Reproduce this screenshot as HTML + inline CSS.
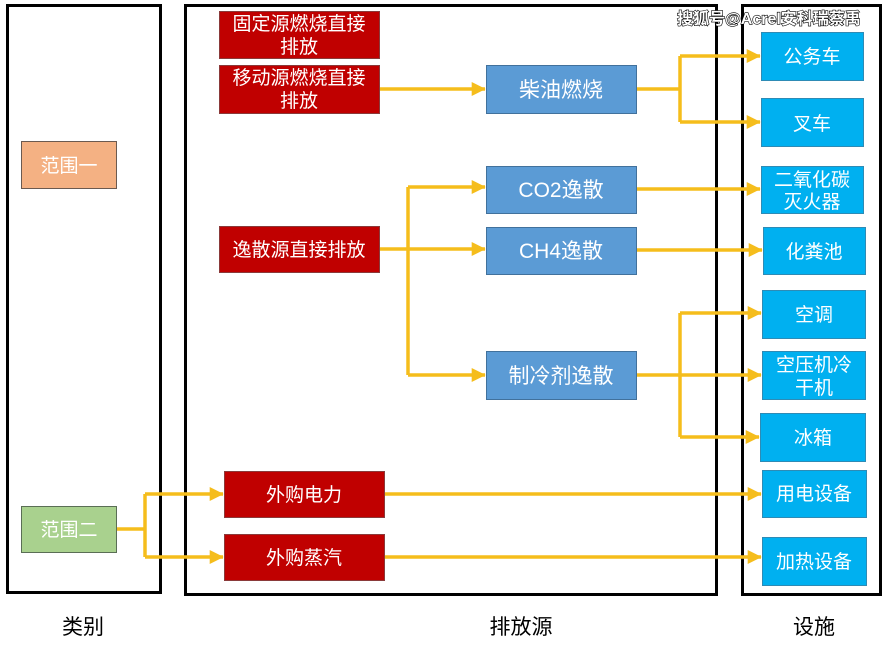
<!DOCTYPE html>
<html><head><meta charset="utf-8"><style>
html,body{margin:0;padding:0;background:#fff;}
svg{display:block}
text{font-family:"Liberation Sans","Noto Sans CJK SC",sans-serif;}
</style></head><body>
<svg width="886" height="646" viewBox="0 0 886 646" xmlns="http://www.w3.org/2000/svg">
<defs>
<marker id="a" markerWidth="4" markerHeight="4" refX="3.8" refY="2" orient="auto" markerUnits="strokeWidth">
<path d="M0,0 L4,2 L0,4 z" fill="#f5bd1c"/>
</marker>
</defs>
<rect x="7.5" y="5.5" width="153" height="587" fill="none" stroke="#000" stroke-width="3"/>
<rect x="185.5" y="5.5" width="531" height="589" fill="none" stroke="#000" stroke-width="3"/>
<rect x="742.5" y="5.5" width="138" height="589" fill="none" stroke="#000" stroke-width="3"/>

<g stroke="#f5bd1c" stroke-width="3.5" fill="none">
<path d="M379 89 H485" marker-end="url(#a)"/>
<path d="M636 89 H680"/>
<path d="M680 56 V122"/>
<path d="M680 56 H760" marker-end="url(#a)"/>
<path d="M680 122 H760" marker-end="url(#a)"/>
<path d="M379 249 H408"/>
<path d="M408 187 V375"/>
<path d="M408 187 H485" marker-end="url(#a)"/>
<path d="M408 249 H485" marker-end="url(#a)"/>
<path d="M408 375 H485" marker-end="url(#a)"/>
<path d="M636 189 H760" marker-end="url(#a)"/>
<path d="M636 250 H762" marker-end="url(#a)"/>
<path d="M636 375 H680"/>
<path d="M680 313 V437"/>
<path d="M680 313 H761" marker-end="url(#a)"/>
<path d="M680 375 H761" marker-end="url(#a)"/>
<path d="M680 437 H759" marker-end="url(#a)"/>
<path d="M116 529 H145"/>
<path d="M145 494 V557"/>
<path d="M145 494 H223" marker-end="url(#a)"/>
<path d="M145 557 H223" marker-end="url(#a)"/>
<path d="M384 494 H761" marker-end="url(#a)"/>
<path d="M384 557 H761" marker-end="url(#a)"/>
</g>

<rect x="21.5" y="141.5" width="95" height="47" fill="#f4b183" stroke="#6b5a50"/>
<text x="69" y="172" font-size="19" fill="#fff" text-anchor="middle">范围一</text>
<rect x="21.5" y="506.5" width="95" height="46" fill="#a9d18e" stroke="#5a6e55"/>
<text x="69" y="536" font-size="19" fill="#fff" text-anchor="middle">范围二</text>

<g fill="#c00000" stroke="#8a3a3a">
<rect x="219.5" y="11.5" width="160" height="47"/>
<rect x="219.5" y="65.5" width="160" height="48"/>
<rect x="219.5" y="226.5" width="160" height="46"/>
<rect x="224.5" y="471.5" width="160" height="46"/>
<rect x="224.5" y="534.5" width="160" height="46"/>
</g>
<g fill="#fff" font-size="19" text-anchor="middle">
<text x="299" y="30">固定源燃烧直接</text>
<text x="299" y="53">排放</text>
<text x="299" y="84">移动源燃烧直接</text>
<text x="299" y="107">排放</text>
<text x="299" y="256">逸散源直接排放</text>
<text x="304" y="501">外购电力</text>
<text x="304" y="564">外购蒸汽</text>
</g>

<g fill="#5b9bd5" stroke="#41719c">
<rect x="486.5" y="65.5" width="150" height="48"/>
<rect x="486.5" y="166.5" width="150" height="47"/>
<rect x="486.5" y="227.5" width="150" height="47"/>
<rect x="486.5" y="351.5" width="150" height="48"/>
</g>
<g fill="#fff" font-size="21" text-anchor="middle">
<text x="561" y="97">柴油燃烧</text>
<text x="561" y="197">CO2逸散</text>
<text x="561" y="258">CH4逸散</text>
<text x="561" y="383">制冷剂逸散</text>
</g>

<g fill="#00b0f0" stroke="#2e8bb5">
<rect x="761.5" y="32.5" width="102" height="48"/>
<rect x="761.5" y="98.5" width="102" height="48"/>
<rect x="761.5" y="166.5" width="102" height="47"/>
<rect x="763.5" y="227.5" width="102" height="47"/>
<rect x="762.5" y="290.5" width="103" height="48"/>
<rect x="762.5" y="351.5" width="103" height="48"/>
<rect x="760.5" y="413.5" width="105" height="48"/>
<rect x="762.5" y="470.5" width="104" height="47"/>
<rect x="762.5" y="537.5" width="104" height="48"/>
</g>
<g fill="#fff" font-size="19" text-anchor="middle">
<text x="812" y="63">公务车</text>
<text x="812" y="130">叉车</text>
<text x="812" y="186">二氧化碳</text>
<text x="812" y="208">灭火器</text>
<text x="814" y="258">化粪池</text>
<text x="814" y="321">空调</text>
<text x="814" y="371">空压机冷</text>
<text x="814" y="394">干机</text>
<text x="813" y="444">冰箱</text>
<text x="814" y="500">用电设备</text>
<text x="814" y="568">加热设备</text>
</g>

<text x="769" y="24" font-size="16" font-weight="bold" fill="#fff" stroke="#000" stroke-width="1.2" paint-order="stroke" text-anchor="middle">搜狐号@Acrel安科瑞蔡禹</text>

<g font-size="21" fill="#000" text-anchor="middle">
<text x="83" y="634">类别</text>
<text x="521" y="634">排放源</text>
<text x="814" y="634">设施</text>
</g>
</svg>
</body></html>
